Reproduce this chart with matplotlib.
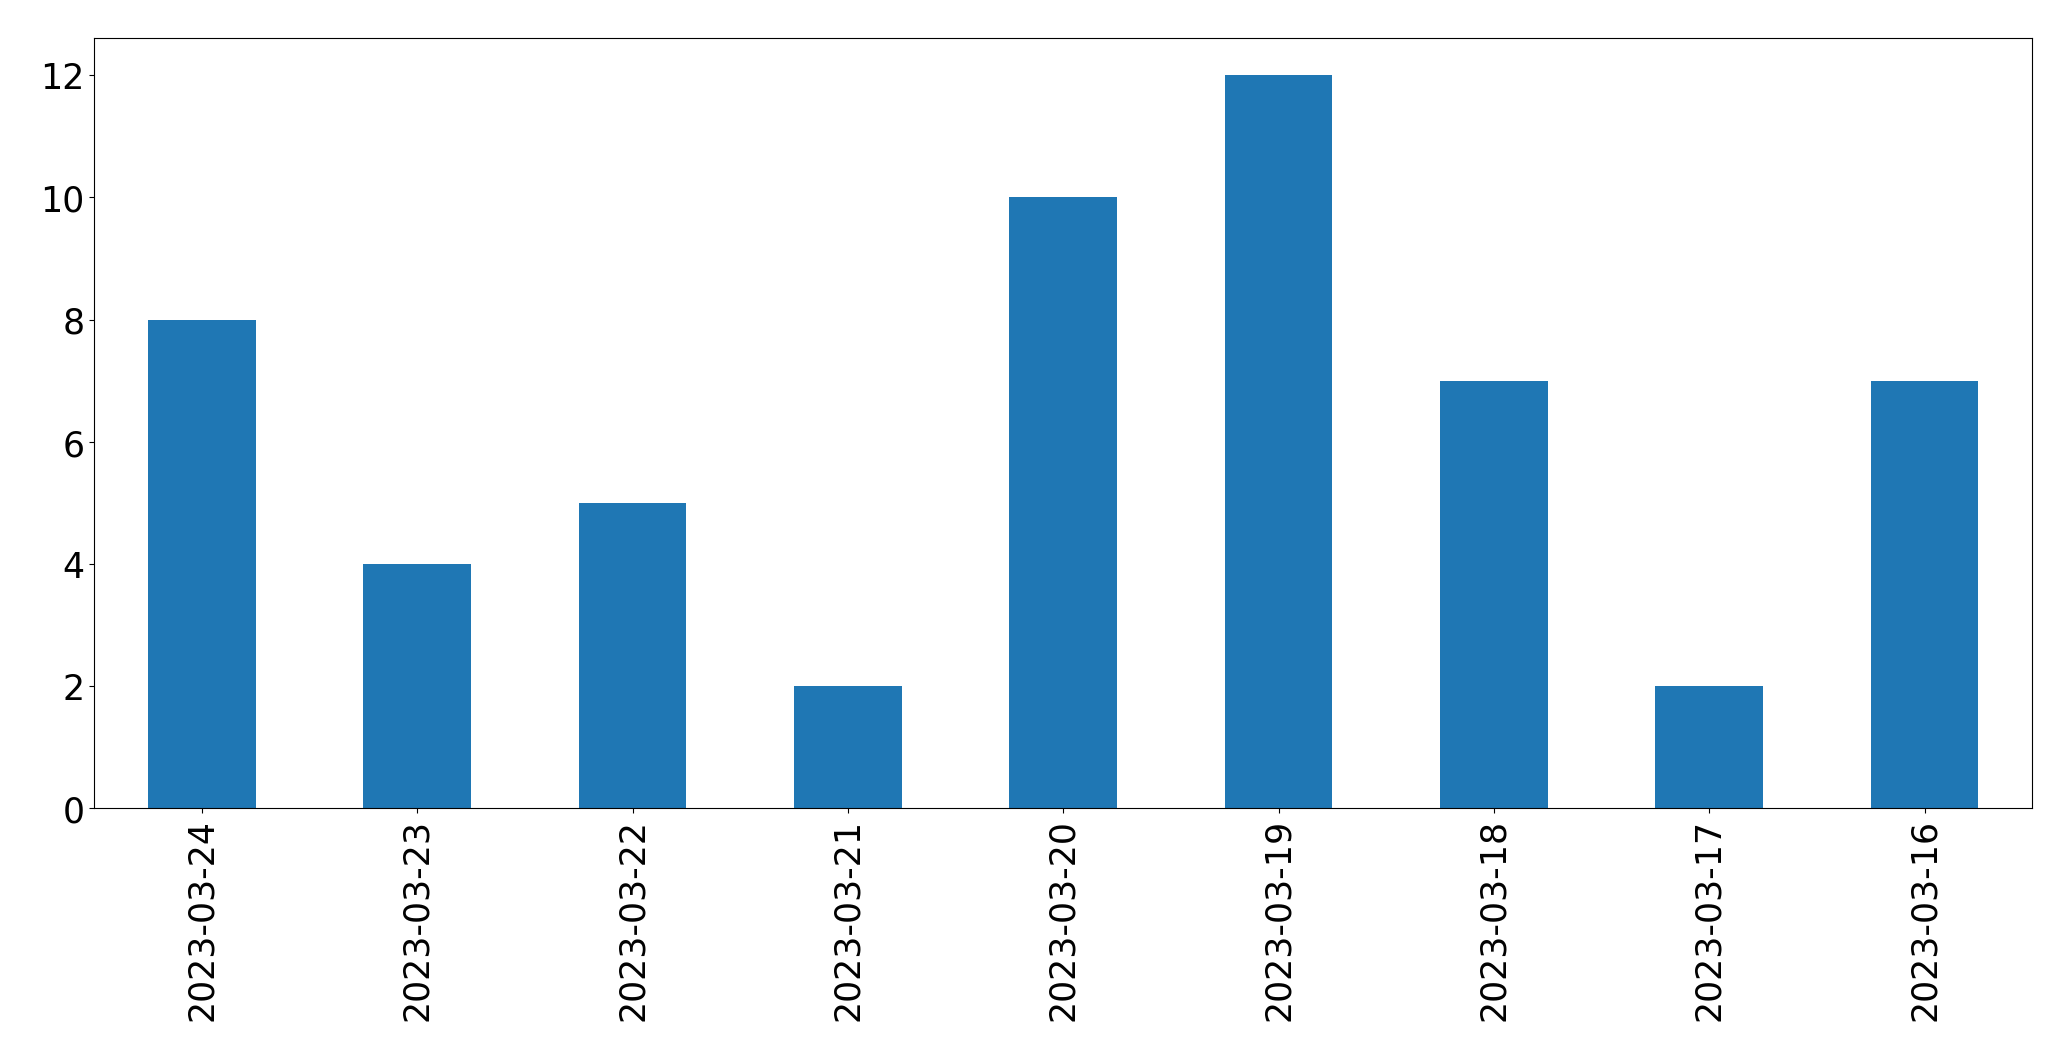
import pandas as pd
import matplotlib
matplotlib.use("Agg")
import matplotlib.pyplot as plt

# dates and counts, as shown
dates = ["2023-03-24", "2023-03-23", "2023-03-22", "2023-03-21", "2023-03-20",
         "2023-03-19", "2023-03-18", "2023-03-17", "2023-03-16"]
counts = [8, 4, 5, 2, 10, 12, 7, 2, 7]

s = pd.Series(counts, index=dates)

fig, ax = plt.subplots(figsize=(20.71, 10.608), dpi=100)
s.plot.bar(ax=ax, color="#1f77b4", fontsize=25)
ax.set_xlim(-0.5, len(dates) - 0.5)
ax.set_ylim(0, 12.6)

fig.subplots_adjust(left=0.0455, right=0.9813, top=0.963, bottom=0.2372)
fig.savefig("out.png", dpi=100)
